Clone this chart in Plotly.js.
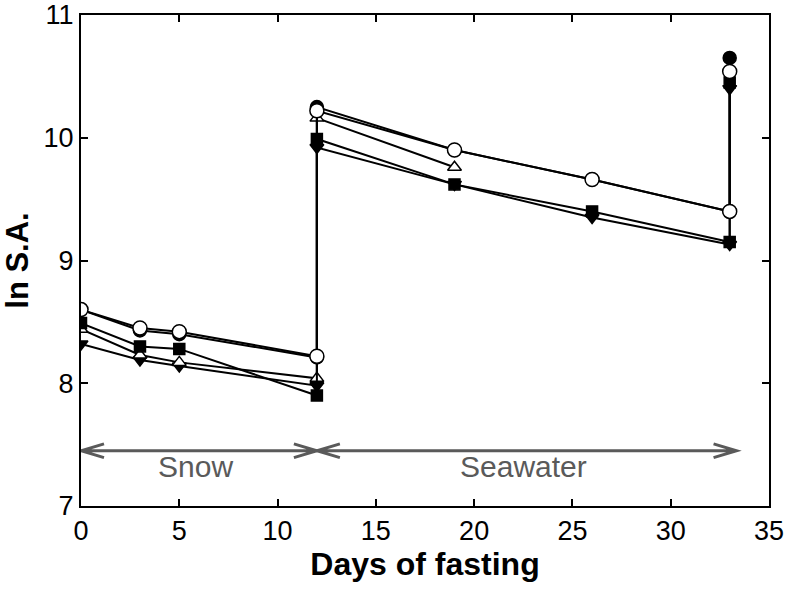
<!DOCTYPE html>
<html>
<head>
<meta charset="utf-8">
<script src="https://cdn.plot.ly/plotly-3.0.1.min.js"></script>
<style>
html,body{margin:0;padding:0;background:#fff;}
#chart{width:786px;height:590px;}
</style>
</head>
<body>
<div id="chart"></div>
<script>
// Days of fasting (day 12 and day 33 appear twice: before / after transfer)
const daysFull = [0, 3, 5, 12, 12, 19, 26, 33, 33];
const daysShort = [0, 3, 5, 12, 12, 19];

// ln S.A. values per fish
const filledCircle   = [8.60, 8.43, 8.40, 8.21, 10.25, 9.90, 9.66, 9.40, 10.65];
const openCircle     = [8.60, 8.45, 8.42, 8.22, 10.22, 9.90, 9.66, 9.40, 10.54];
const filledSquare   = [8.49, 8.30, 8.28, 7.90, 9.99, 9.62, 9.40, 9.15, 10.45];
const openTriangle   = [8.44, 8.23, 8.17, 8.04, 10.16, 9.76];
const filledTriDown  = [8.32, 8.19, 8.14, 7.98, 9.92, 9.62, 9.35, 9.13, 10.40];

// Phases shown by double arrows
const phaseNames = ['Snow', 'Seawater'];
const phaseStart = [0, 12];
const phaseEnd = [12, 33.35];
const phaseLabelX = [5.83, 22.5];
const phaseLevel = 7.45;

const FONT = 'Liberation Sans, Arial, Helvetica, sans-serif';
const lineStyle = {color: '#000', width: 2};
function mk(symbol, fill, size) {
  return {symbol: symbol, size: size, color: fill, line: {color: '#000', width: 1.5}};
}

const traces = [
  {x: daysFull, y: filledTriDown, mode: 'lines+markers', line: lineStyle, marker: mk('triangle-down', '#000', 12)},
  {x: daysShort, y: openTriangle, mode: 'lines+markers', line: lineStyle, marker: mk('triangle-up', '#fff', 12)},
  {x: daysFull, y: filledSquare, mode: 'lines+markers', line: lineStyle, marker: mk('square', '#000', 11)},
  {x: daysFull, y: filledCircle, mode: 'lines+markers', line: lineStyle, marker: mk('circle', '#000', 13)},
  {x: daysFull, y: openCircle, mode: 'lines+markers', line: lineStyle, marker: mk('circle', '#fff', 14)}
];

const arrowGray = '#5a5a5a';
const barbX = 1.17, barbY = 0.056;
const shapes = [];
const annotations = [];
for (let i = 0; i < phaseNames.length; i++) {
  const a = phaseStart[i], b = phaseEnd[i], y = phaseLevel;
  const p = 'M' + a + ',' + y + ' L' + b + ',' + y +
    ' M' + (a + barbX) + ',' + (y + barbY) + ' L' + a + ',' + y + ' L' + (a + barbX) + ',' + (y - barbY) +
    ' M' + (b - barbX) + ',' + (y + barbY) + ' L' + b + ',' + y + ' L' + (b - barbX) + ',' + (y - barbY);
  shapes.push({type: 'path', xref: 'x', yref: 'y', path: p, line: {color: arrowGray, width: 3}});
  annotations.push({
    x: phaseLabelX[i], y: 7.32, xref: 'x', yref: 'y',
    text: phaseNames[i], showarrow: false,
    font: {family: FONT, size: 30, color: arrowGray},
    xanchor: 'center', yanchor: 'middle'
  });
}

const axisCommon = {
  showgrid: false, zeroline: false, showline: true, linecolor: '#000', linewidth: 2,
  mirror: 'ticks', ticks: 'inside', ticklen: 7, tickwidth: 2, tickcolor: '#000',
  ticklabeloverflow: 'allow',
  tickfont: {family: FONT, size: 27, color: '#000'}
};

const layout = {
  width: 786, height: 590,
  margin: {l: 81, r: 17, t: 15, b: 84},
  paper_bgcolor: '#fff', plot_bgcolor: '#fff',
  showlegend: false,
  xaxis: Object.assign({}, axisCommon, {
    range: [0, 35], dtick: 5, tick0: 0,
    title: {text: 'Days of fasting', font: {family: FONT, size: 32, color: '#000', weight: 'bold'}, standoff: 4}
  }),
  yaxis: Object.assign({}, axisCommon, {
    range: [7, 11], dtick: 1, tick0: 7,
    title: {text: 'ln S.A.', font: {family: FONT, size: 31, color: '#000', weight: 'bold'}, standoff: 8}
  }),
  shapes: shapes,
  annotations: annotations
};

Plotly.newPlot('chart', traces, layout, {displayModeBar: false, staticPlot: true});
</script>
</body>
</html>
